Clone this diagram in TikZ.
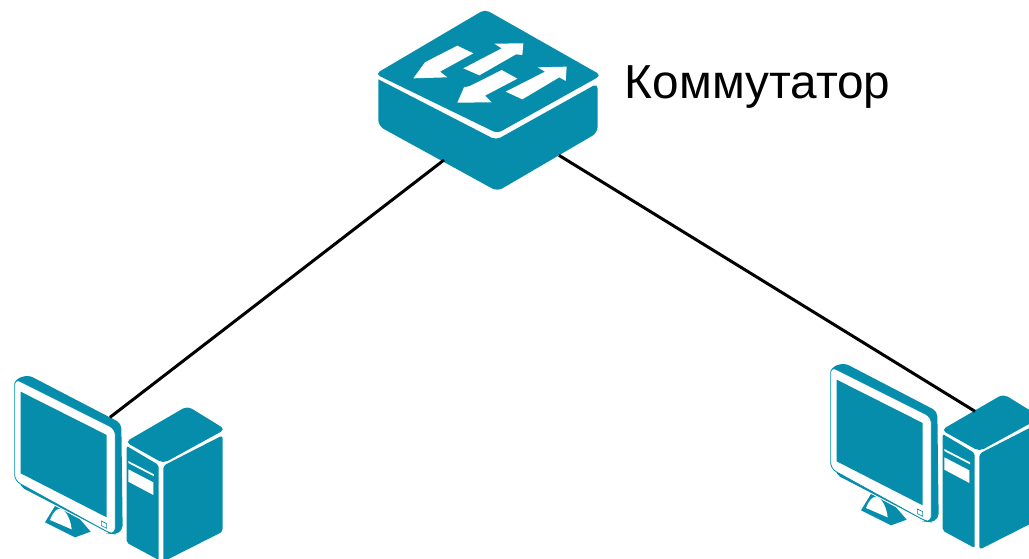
\documentclass[tikz,border=0pt]{standalone}
\usepackage{fontspec}
\setmainfont{Liberation Sans}
\usetikzlibrary{positioning}
\definecolor{iconteal}{HTML}{058DAB}
\tikzset{
  iconfill/.style={fill=iconteal,draw=none},
  iconwhite/.style={fill=white,draw=none},
  switchicon/.pic={
    \path[iconfill,rounded corners=5pt] (46,222) -- (375,28) -- (724,226) -- (412,400) -- cycle;
    \path[iconfill] (55,238) -- (385,408) [rounded corners=5pt] -- (408,420) -- (713,250) [sharp corners] -- (713,300) [rounded corners=6pt] -- (713,398) -- (412,574) -- (55,378) [sharp corners] -- (55,300) -- cycle;
    \path[iconwhite] (292,137) -- (340,160) -- (240,215) -- (262,232) -- (160,235) -- (195,187) -- (212,178) -- cycle;
    \path[iconwhite] (403,131) -- (490,130) -- (487,165) -- (468,163) -- (358,226) -- (310,205) -- (425,145) -- cycle;
    \path[iconwhite] (425,210) -- (472,236) -- (375,287) -- (395,307) -- (292,308) -- (312,262) -- (330,258) -- cycle;
    \path[iconwhite] (533,202) -- (620,200) -- (617,243) -- (598,232) -- (487,298) -- (437,275) -- (555,215) -- cycle;
    \coordinate (-w) at (252,480);
    \coordinate (-e) at (597,466);
    \coordinate (-r) at (713,250);
  },
  pcicon/.pic={
    % stand
    \path[iconfill] (135,487) -- (165,438) -- (240,478) -- (272,515) -- (225,532) -- cycle;
    \path[iconwhite] (150,480) .. controls (160,455) and (170,445) .. (182,447) .. controls (200,452) and (212,480) .. (215,508) -- cycle;
    % monitor
    \path[iconfill,rounded corners=5pt] (44,58) -- (85,45) -- (364,190) -- (368,512) -- (340,525) -- (60,380) -- cycle;
    \path[fill=white,draw=iconteal,line width=.8pt,rounded corners=6pt] (44,56) -- (346,207) -- (346,522) -- (330,520) -- (44,362) -- cycle;
    \path[iconfill] (62,95) -- (320,225) -- (320,472) -- (62,340) -- cycle;
    \path[fill=white,draw=iconteal,line width=.6pt] (304,483) -- (320,491) -- (320,505) -- (304,497) -- cycle;
    % tower
    \path[iconfill,rounded corners=5pt] (376,246) -- (562,138) -- (676,208) -- (490,310) -- cycle;
    \path[iconfill,rounded corners=2pt] (380,258) -- (476,315) -- (476,600) -- (380,548) -- cycle;
    \path[iconfill,rounded corners=3pt] (490,317) -- (668,226) -- (668,515) -- (490,605) -- cycle;
    \path[iconwhite] (385,303) -- (462,343) -- (462,349) -- (385,309) -- cycle;
    \path[iconwhite] (385,328) -- (460,367) -- (460,405) -- (385,365) -- cycle;
    \coordinate (-m) at (330,172);
    \coordinate (-t) at (477,190);
  }
}
\begin{document}
\begin{tikzpicture}[x=1pt,y=-1pt]
  \clip (0,0) rectangle (1029,559);
  \pic[scale=1/3] (sw) at (360,0) {switchicon};
  \pic[scale=1/3] (pcl) at (0,360) {pcicon};
  \pic[scale=1/3] (pcr) at (816,348) {pcicon};
  \node[font=\fontsize{47.7}{56}\selectfont,inner sep=0pt,right=27pt of sw-r,yshift=-4pt] (lbl) {Коммутатор};
  \path[draw=black,line width=3pt] (sw-w) -- (pcl-m)
  (sw-e) -- (pcr-t);
\end{tikzpicture}
\end{document}
